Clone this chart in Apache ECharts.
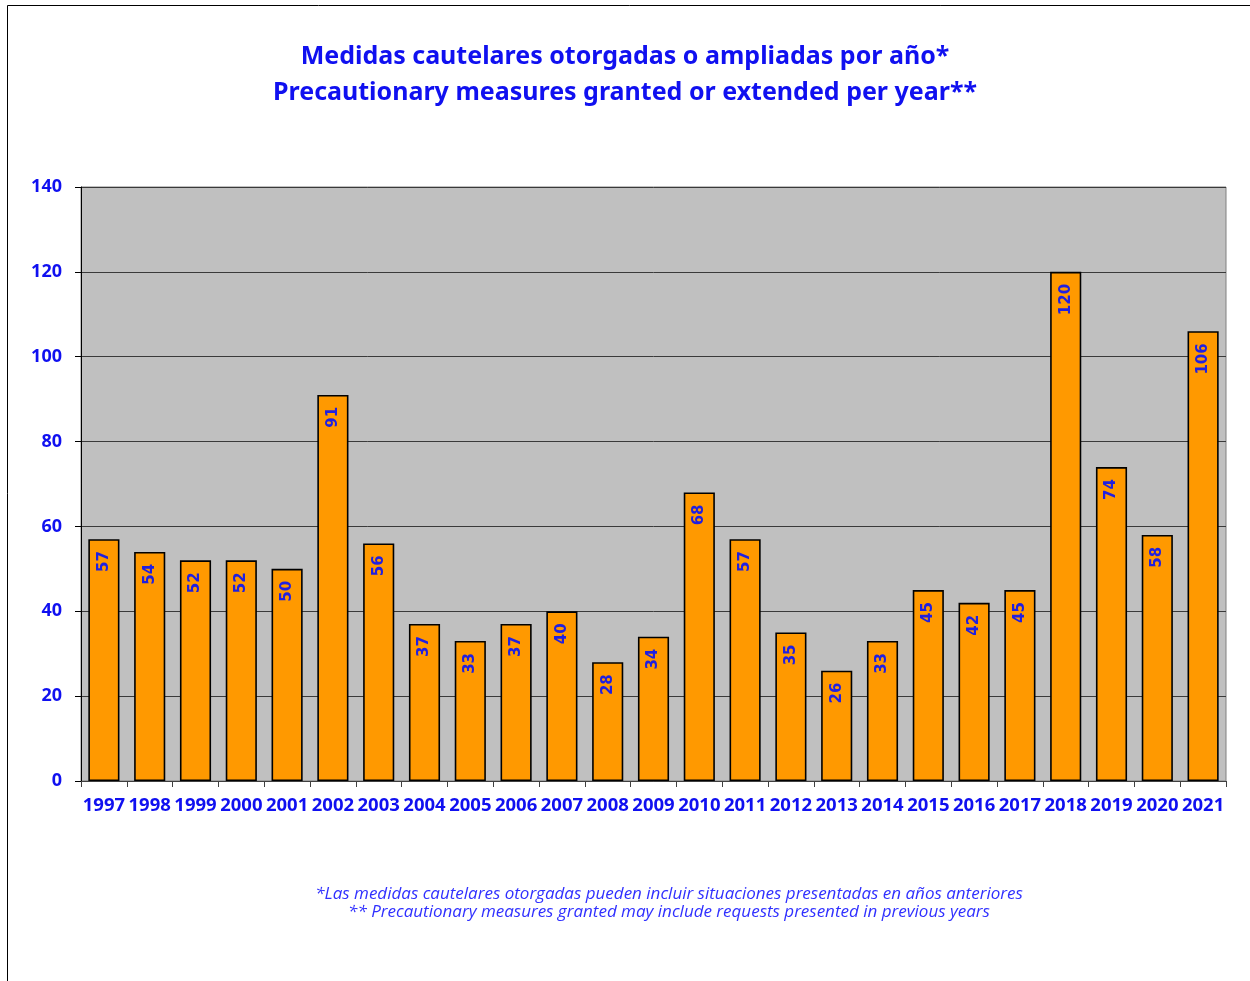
<!DOCTYPE html>
<html>
<head>
<meta charset="utf-8">
<script src="https://cdn.jsdelivr.net/npm/echarts@6/dist/echarts.min.js"></script>
<style>
  html, body { margin: 0; padding: 0; background: #ffffff; }
  #chart { width: 1250px; height: 981px; }
</style>
</head>
<body>
<div id="chart"></div>
<script>
// Years shown on the category axis
const years = ['1997','1998','1999','2000','2001','2002','2003','2004','2005','2006','2007','2008','2009',
               '2010','2011','2012','2013','2014','2015','2016','2017','2018','2019','2020','2021'];
// Precautionary measures granted or extended in each year
const measures = [57, 54, 52, 52, 50, 91, 56, 37, 33, 37, 40, 28, 34, 68, 57, 35, 26, 33, 45, 42, 45, 120, 74, 58, 106];
// Title and footnote lines
const titleLines = ['Medidas cautelares otorgadas o ampliadas por año*',
                    'Precautionary measures granted or extended per year**'];
const noteLines = ['*Las medidas cautelares otorgadas pueden incluir situaciones presentadas en años anteriores',
                   '** Precautionary measures granted may include requests presented in previous years'];

const chart = echarts.init(document.getElementById('chart'), null, { renderer: 'canvas' });
const blue = '#1010F0';
const font = '"Noto Sans", "Open Sans", sans-serif';

// footnote lines, each centred on the same point
const noteGraphics = noteLines.map((line, i) => ({
  type: 'text', silent: true,
  x: 669, y: 894 + i * 18,
  style: {
    text: line, align: 'center', verticalAlign: 'middle',
    fill: '#3030FF', font: 'italic 17px "Open Sans", sans-serif'
  }
}));

chart.setOption({
  animation: false,
  backgroundColor: '#ffffff',
  title: {
    text: titleLines.join('\n'),
    left: 'center',
    top: 34,
    itemGap: 0,
    textStyle: {
      color: blue, fontFamily: font, fontWeight: 'bold', fontSize: 25, lineHeight: 36
    }
  },
  graphic: [
    {
      type: 'rect', silent: true, z: 100,
      shape: { x: 7.5, y: 5.5, width: 1300, height: 1000 },
      style: { fill: 'none', stroke: '#000000', lineWidth: 1 }
    }
  ].concat(noteGraphics),
  grid: {
    left: 81, top: 187, width: 1145, height: 594,
    show: true, backgroundColor: '#C0C0C0', borderColor: '#808080', borderWidth: 1,
    containLabel: false
  },
  xAxis: {
    type: 'category',
    data: years,
    axisLine: { show: true, lineStyle: { color: '#404040', width: 1 } },
    axisTick: { show: true, alignWithLabel: false, length: 6, lineStyle: { color: '#404040' } },
    axisLabel: {
      color: blue, fontFamily: font, fontWeight: 'bold', fontSize: 18.5, margin: 15, interval: 0
    }
  },
  yAxis: {
    type: 'value',
    min: 0, max: 140, interval: 20,
    axisLine: { show: true, lineStyle: { color: '#000000', width: 1 } },
    axisTick: { show: true, length: 6, lineStyle: { color: '#000000' } },
    axisLabel: {
      color: blue, fontFamily: font, fontWeight: 'bold', fontSize: 18, margin: 19
    },
    splitLine: { show: true, lineStyle: { color: '#3a3a3a', width: 1 } }
  },
  series: [{
    type: 'bar',
    data: measures,
    barCategoryGap: '32%',
    itemStyle: { color: '#FF9900', borderColor: '#000000', borderWidth: 1.6 },
    label: {
      show: true,
      position: 'insideTop',
      rotate: 90,
      align: 'right',
      verticalAlign: 'middle',
      distance: 12,
      color: '#2020E0',
      fontFamily: '"DejaVu Sans", sans-serif',
      fontWeight: 'bold',
      fontSize: 15
    }
  }]
});
</script>
</body>
</html>
